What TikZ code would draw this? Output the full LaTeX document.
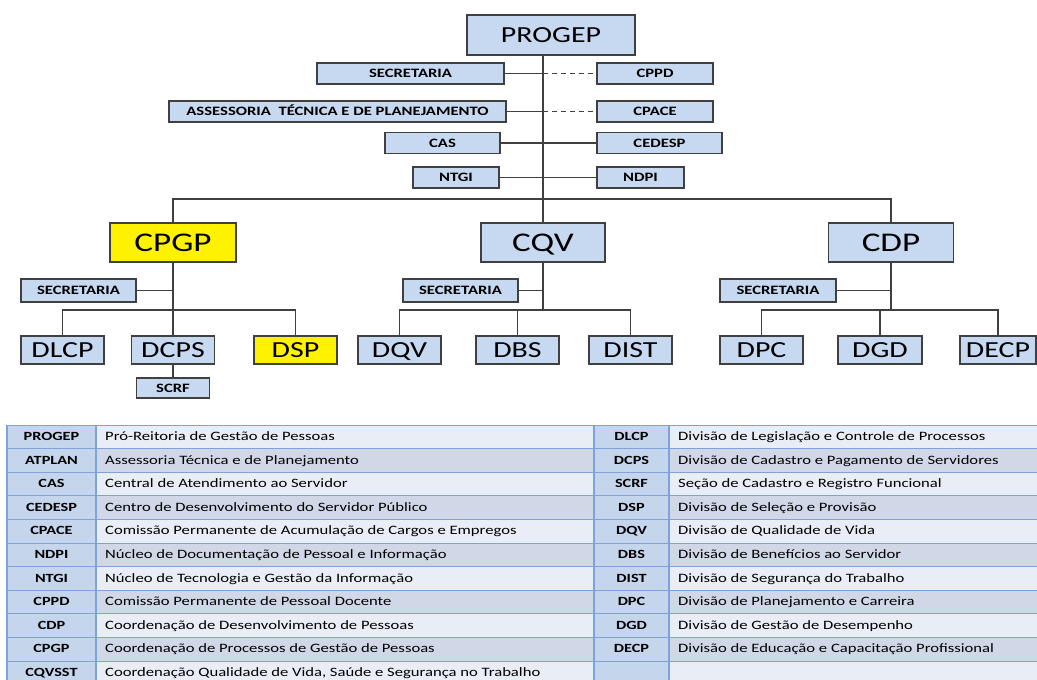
\documentclass[tikz,border=0pt]{standalone}
\usepackage{fontspec}
\setmainfont[FakeStretch=1.3]{Carlito}

\definecolor{boxblue}{RGB}{198,217,241}
\definecolor{edgegray}{RGB}{64,64,64}
\definecolor{cellblue}{RGB}{197,213,236}
\definecolor{rowlight}{RGB}{233,237,245}
\definecolor{rowdark}{RGB}{208,216,232}
\definecolor{gridblue}{RGB}{125,163,218}

\begin{document}
\begin{tikzpicture}[x=1pt,y=-1pt,
    unit/.style={draw=edgegray, fill=boxblue, line width=1.2pt, inner sep=0pt},
    big/.style={unit, font=\fontsize{23}{25}\selectfont, text height=15pt, text depth=0pt},
    head/.style={unit, font=\fontsize{27}{29}\selectfont, text height=17.5pt, text depth=0pt},
    small/.style={unit, font=\bfseries\fontsize{12.8}{14}\selectfont, text height=8.2pt, text depth=0pt},
    wh/.style 2 args={minimum width=#1pt, minimum height=#2pt},
    hl/.style={fill=yellow},
    link/.style={draw=edgegray, line width=1.3pt},
    tie/.style={link, dash pattern=on 5pt off 4pt},
    grid/.style={draw=gridblue, line width=0.8pt},
    gridv/.style={draw=gridblue, line width=1.4pt},
    abbr/.style={font=\bfseries\fontsize{12.5}{14}\selectfont, inner sep=0pt, anchor=base},
    desc/.style={font=\fontsize{12.8}{14}\selectfont, inner sep=0pt, anchor=base west}]

    \useasboundingbox (0,0) rectangle (1037,680);

    \node[big, wh={168}{40}] (progep) at (551,35) {PROGEP};
    \node[small, wh={187}{21}] (sec) at (410.5,73.5) {SECRETARIA};
    \node[small, wh={116}{21}] (cppd) at (655,73.5) {CPPD};
    \node[small, wh={337}{21}] (atplan) at (337.5,111.5) {ASSESSORIA\ \ TÉCNICA E DE PLANEJAMENTO};
    \node[small, wh={116}{21}] (cpace) at (655,111.5) {CPACE};
    \node[small, wh={115}{21}] (cas) at (442.5,143) {CAS};
    \node[small, wh={125}{21}] (cedesp) at (659.5,143) {CEDESP};
    \node[small, wh={86}{21}] (ntgi) at (456,177.5) {NTGI};
    \node[small, wh={87}{21}] (ndpi) at (640.5,177.5) {NDPI};

    \node[head, hl, wh={126}{39}] (cpgp) at (173,242.5) {CPGP};
    \node[head, wh={124}{39}] (cqv) at (543,242.5) {CQV};
    \node[head, wh={125}{39}] (cdp) at (891,242.5) {CDP};

    \node[small, wh={115}{23}] (secp) at (78.5,290.5) {SECRETARIA};
    \node[small, wh={115}{23}] (secq) at (460.5,290.5) {SECRETARIA};
    \node[small, wh={116}{23}] (secd) at (778,290.5) {SECRETARIA};

    \node[big, wh={83}{28}] (dlcp) at (62.5,350) {DLCP};
    \node[big, wh={83}{28}] (dcps) at (173,350) {DCPS};
    \node[big, hl, wh={83}{28}] (dsp) at (295.5,350) {DSP};
    \node[big, wh={83}{28}] (dqv) at (399.5,350) {DQV};
    \node[big, wh={83}{28}] (dbs) at (517.5,350) {DBS};
    \node[big, wh={83}{28}] (dist) at (630.5,350) {DIST};
    \node[big, wh={83}{28}] (dpc) at (761.5,350) {DPC};
    \node[big, wh={84}{28}] (dgd) at (880,350) {DGD};
    \node[big, wh={76}{28}] (decp) at (998,350) {DECP};
    \node[small, wh={73}{20}] (scrf) at (173,388) {SCRF};

    \coordinate (bus) at (543,199);
    \coordinate (bp) at (173,310);
    \coordinate (bq) at (543,310);
    \coordinate (bd) at (891,310);

    \draw[link] (progep.south -| cqv.north) -- (cqv.north);
    \draw[link] (cpgp.north) |- (bus) -| (cdp.north);
    \draw[link] (sec.east) -- (sec.east -| cqv.north);
    \draw[tie] (sec.east -| cqv.north) -- (cppd.west);
    \draw[link] (atplan.east) -- (atplan.east -| cqv.north);
    \draw[tie] (atplan.east -| cqv.north) -- (cpace.west);
    \draw[link] (cas.east) -- (cedesp.west);
    \draw[link] (ntgi.east) -- (ndpi.west);

    \foreach \h/\s/\b/\l/\m/\r in {cpgp/secp/bp/dlcp/dcps/dsp, cqv/secq/bq/dqv/dbs/dist, cdp/secd/bd/dpc/dgd/decp} {
        \draw[link] (\h.south) -- (\b);
        \draw[link] (\s.east) -- (\s.east -| \b);
        \draw[link] (\l.north) |- (\b) -| (\r.north);
        \draw[link] (\m.north |- \b) -- (\m.north);
    }
    \draw[link] (dcps.south) -- (scrf.north);

    \foreach \ab/\tx [count=\i] in {PROGEP/{Pró-Reitoria de Gestão de Pessoas}, ATPLAN/{Assessoria Técnica e de Planejamento}, CAS/{Central de Atendimento ao Servidor}, CEDESP/{Centro de Desenvolvimento do Servidor Público}, CPACE/{Comissão Permanente de Acumulação de Cargos e Empregos}, NDPI/{Núcleo de Documentação de Pessoal e Informação}, NTGI/{Núcleo de Tecnologia e Gestão da Informação}, CPPD/{Comissão Permanente de Pessoal Docente}, CDP/{Coordenação de Desenvolvimento de Pessoas}, CPGP/{Coordenação de Processos de Gestão de Pessoas}, CQVSST/{Coordenação Qualidade de Vida, Saúde e Segurança no Trabalho}} {
        \pgfmathsetmacro\yt{425+(\i-1)*23.6}
        \ifodd\i \def\rowc{rowlight}\else \def\rowc{rowdark}\fi
        \fill[cellblue] (7,\yt) rectangle (96,\yt+23.6);
        \fill[\rowc] (96,\yt) rectangle (594,\yt+23.6);
        \node[abbr] (la\i) at (51.5,\yt+15.5) {\ab};
        \node[desc] (lt\i) at (105,\yt+15.5) {\tx};
    }

    \foreach \ab/\tx [count=\i] in {DLCP/{Divisão de Legislação e Controle de Processos}, DCPS/{Divisão de Cadastro e Pagamento de Servidores}, SCRF/{Seção de Cadastro e Registro Funcional}, DSP/{Divisão de Seleção e Provisão}, DQV/{Divisão de Qualidade de Vida}, DBS/{Divisão de Benefícios ao Servidor}, DIST/{Divisão de Segurança do Trabalho}, DPC/{Divisão de Planejamento e Carreira}, DGD/{Divisão de Gestão de Desempenho}, DECP/{Divisão de Educação e Capacitação Profissional}, {}/{}} {
        \pgfmathsetmacro\yt{425+(\i-1)*23.6}
        \ifodd\i \def\rowc{rowlight}\else \def\rowc{rowdark}\fi
        \fill[cellblue] (594,\yt) rectangle (669,\yt+23.6);
        \fill[\rowc] (669,\yt) rectangle (1037,\yt+23.6);
        \node[abbr] (ra\i) at (631.5,\yt+15.5) {\ab};
        \node[desc] (rt\i) at (678,\yt+15.5) {\tx};
    }

    \foreach \i in {0,...,11}
        \draw[grid] (7,425+\i*23.6) -- (1037,425+\i*23.6);
    \foreach \x in {7,96,594,669}
        \draw[gridv] (\x,425) -- (\x,690);

\end{tikzpicture}
\end{document}
